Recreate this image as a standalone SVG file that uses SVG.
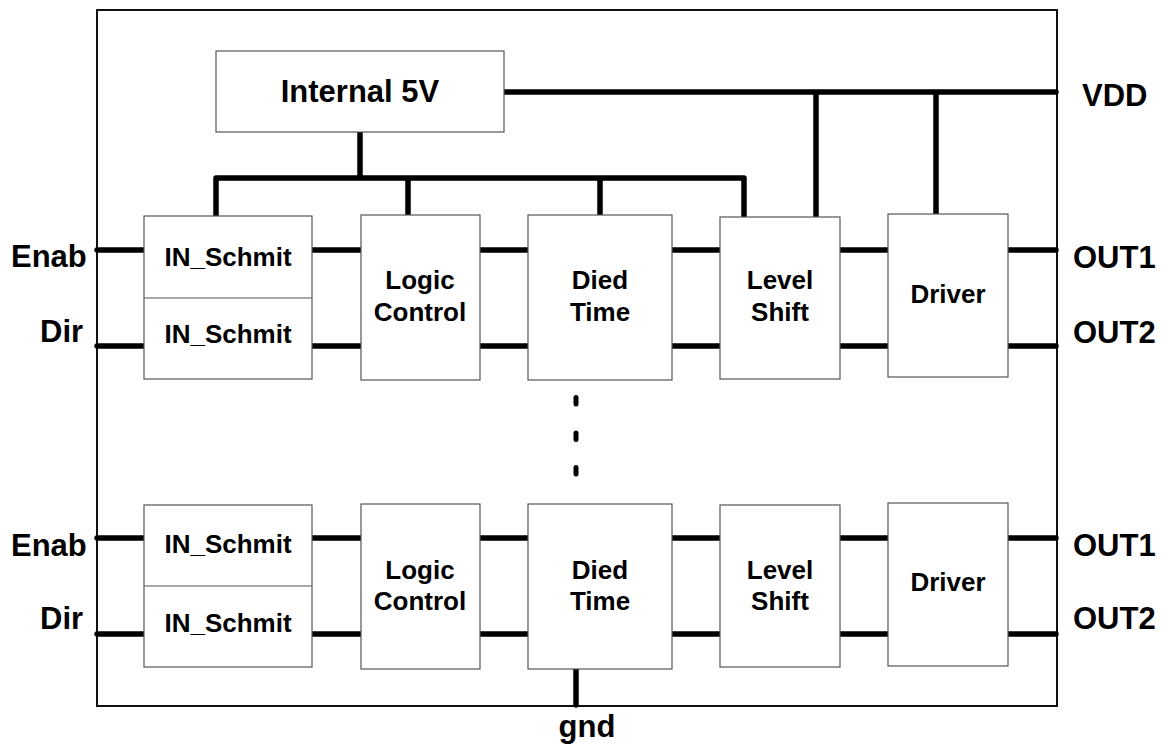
<svg xmlns="http://www.w3.org/2000/svg" width="1165" height="745" viewBox="0 0 1165 745">
<style>
.box{fill:#fff;stroke:#555;stroke-width:1.2}
.frame{fill:none;stroke:#111;stroke-width:2}
.w{stroke:#000;stroke-width:5.5;fill:none;stroke-linecap:round}
.t{font-family:"Liberation Sans",Arial,sans-serif;font-weight:bold;font-size:26px;fill:#000;text-anchor:middle}
.big{font-family:"Liberation Sans",Arial,sans-serif;font-weight:bold;font-size:31px;fill:#000}
.dot{fill:#000}
</style>
<rect class="frame" x="97" y="10" width="960" height="696"/>
<g id="connectors">
<path class="w" d="M503 92H1056M816 92V216M936 92V214"/>
<path class="w" d="M360 132V178M216 178H744M216 178V216M408 178V215M600 178V215M744 178V216"/>
<path class="w" d="M97 250H144M312 250H361M480 250H528M672 250H720M840 250H888M1008 250H1056"/>
<path class="w" d="M97 346H144M312 346H361M480 346H528M672 346H720M840 346H888M1008 346H1056"/>
<path class="w" d="M97 538H144M312 538H361M480 538H528M672 538H720M840 538H888M1008 538H1056"/>
<path class="w" d="M97 634H144M312 634H361M480 634H528M672 634H720M840 634H888M1008 634H1056"/>
<path class="w" d="M576 669V705"/>
</g>
<g id="dots">
<rect class="dot" x="573.5" y="395" width="5" height="11.5" rx="2.5"/>
<rect class="dot" x="573.5" y="430.5" width="5" height="11.5" rx="2.5"/>
<rect class="dot" x="573.5" y="465" width="5" height="11.5" rx="2.5"/>
</g>
<g id="internal5v">
<rect class="box" x="216" y="51" width="288" height="81"/>
<text class="t" x="360" y="102" style="font-size:31px">Internal 5V</text>
</g>
<g id="schmit1">
<rect class="box" x="144" y="216" width="168" height="163"/>
<line x1="144" y1="298" x2="312" y2="298" stroke="#555" stroke-width="1.2"/>
<text class="t" x="228" y="266">IN_Schmit</text>
<text class="t" x="228" y="343">IN_Schmit</text>
</g>
<g id="logic1">
<rect class="box" x="361" y="215" width="119" height="165"/>
<text class="t" x="420" y="289">Logic</text>
<text class="t" x="420" y="321">Control</text>
</g>
<g id="died1">
<rect class="box" x="528" y="215" width="144" height="165"/>
<text class="t" x="600" y="289">Died</text>
<text class="t" x="600" y="321">Time</text>
</g>
<g id="level1">
<rect class="box" x="720" y="217" width="120" height="162"/>
<text class="t" x="780" y="289">Level</text>
<text class="t" x="780" y="321">Shift</text>
</g>
<g id="driver1">
<rect class="box" x="888" y="214" width="120" height="163"/>
<text class="t" x="948" y="303">Driver</text>
</g>
<g id="schmit2">
<rect class="box" x="144" y="505" width="168" height="162"/>
<line x1="144" y1="586" x2="312" y2="586" stroke="#555" stroke-width="1.2"/>
<text class="t" x="228" y="553">IN_Schmit</text>
<text class="t" x="228" y="632">IN_Schmit</text>
</g>
<g id="logic2">
<rect class="box" x="361" y="504" width="119" height="165"/>
<text class="t" x="420" y="579">Logic</text>
<text class="t" x="420" y="610">Control</text>
</g>
<g id="died2">
<rect class="box" x="528" y="504" width="144" height="165"/>
<text class="t" x="600" y="579">Died</text>
<text class="t" x="600" y="610">Time</text>
</g>
<g id="level2">
<rect class="box" x="720" y="505" width="120" height="162"/>
<text class="t" x="780" y="579">Level</text>
<text class="t" x="780" y="610">Shift</text>
</g>
<g id="driver2">
<rect class="box" x="888" y="503" width="120" height="163"/>
<text class="t" x="948" y="591">Driver</text>
</g>
<g id="labels">
<text class="big" x="11" y="267">Enab</text>
<text class="big" x="40" y="342">Dir</text>
<text class="big" x="11" y="556">Enab</text>
<text class="big" x="40" y="629">Dir</text>
<text class="big" x="1082" y="106">VDD</text>
<text class="big" x="1073" y="268">OUT1</text>
<text class="big" x="1073" y="343">OUT2</text>
<text class="big" x="1073" y="556">OUT1</text>
<text class="big" x="1073" y="629">OUT2</text>
<text class="big" x="587" y="737" text-anchor="middle">gnd</text>
</g>
</svg>
